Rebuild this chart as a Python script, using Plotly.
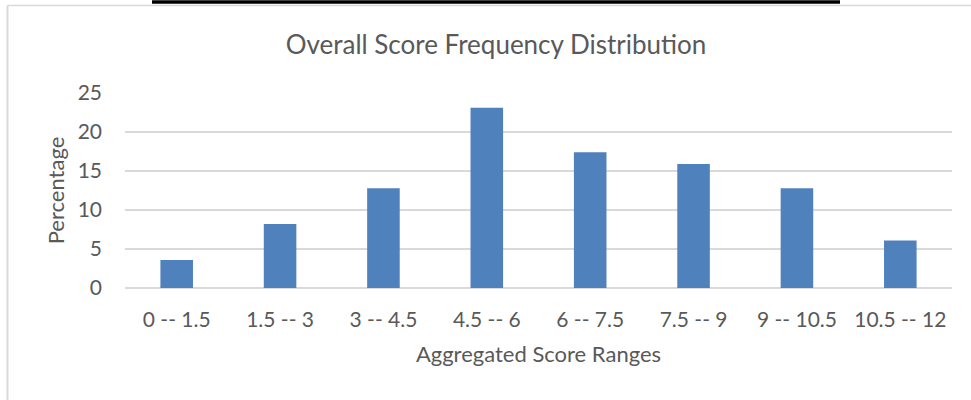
import plotly.graph_objects as go

categories = ["0 -- 1.5", "1.5 -- 3", "3 -- 4.5", "4.5 -- 6", "6 -- 7.5", "7.5 -- 9", "9 -- 10.5", "10.5 -- 12"]
percentages = [3.6, 8.2, 12.8, 23.1, 17.4, 15.9, 12.8, 6.1]
y_ticks = [0, 5, 10, 15, 20, 25]

W, H = 971, 400
L, R, T, B = 125, 19, 93, 112
pw = W - L - R
ph = H - T - B

def px_x(x):
    return (x - L) / pw

def px_y(y):
    return (H - B - y) / ph

font_family = "Lato, 'Open Sans', sans-serif"
text_color = "#595959"

fig = go.Figure(
    go.Bar(
        x=categories,
        y=percentages,
        marker=dict(color="#4f81bd", line=dict(width=0)),
    )
)

fig.update_layout(
    width=W,
    height=H,
    margin=dict(l=L, r=R, t=T, b=B),
    paper_bgcolor="white",
    plot_bgcolor="white",
    bargap=0.685,
    showlegend=False,
    title=dict(
        text="Overall Score Frequency Distribution",
        x=px_x(496),
        xref="paper",
        xanchor="center",
        y=1 - 45 / H,
        yref="container",
        yanchor="middle",
        font=dict(family=font_family, size=26, color=text_color),
    ),
    xaxis=dict(
        showgrid=False,
        showline=False,
        ticks="",
        ticklabelstandoff=17,
        tickfont=dict(family=font_family, size=21, color=text_color),
        title=dict(
            text="Aggregated Score Ranges",
            font=dict(family=font_family, size=22, color=text_color),
            standoff=16,
        ),
    ),
    yaxis=dict(
        range=[0, 25],
        tickvals=y_ticks,
        showgrid=True,
        gridcolor="#d9d9d9",
        gridwidth=1.5,
        zeroline=True,
        zerolinecolor="#d9d9d9",
        zerolinewidth=1.5,
        showline=False,
        ticks="",
        ticklabelstandoff=22,
        tickfont=dict(family=font_family, size=21, color=text_color),
        title=dict(
            text="Percentage",
            font=dict(family=font_family, size=22, color=text_color),
            standoff=6,
        ),
    ),
    shapes=[
        # chart border (left and top)
        dict(type="line", xref="paper", yref="paper",
             x0=px_x(7.5), x1=px_x(975), y0=px_y(5.5), y1=px_y(5.5),
             line=dict(color="#d9d9d9", width=1.5)),
        dict(type="line", xref="paper", yref="paper",
             x0=px_x(7.5), x1=px_x(7.5), y0=px_y(5.5), y1=px_y(405),
             line=dict(color="#d9d9d9", width=2)),
        # underline from the document above
        dict(type="line", xref="paper", yref="paper",
             x0=px_x(152), x1=px_x(840), y0=px_y(2), y1=px_y(2),
             line=dict(color="black", width=3.5)),
    ],
)

fig.write_html(
    "out.html",
    config={"displayModeBar": False},
    post_script="document.body.style.margin='0';document.body.style.overflow='hidden';",
)
